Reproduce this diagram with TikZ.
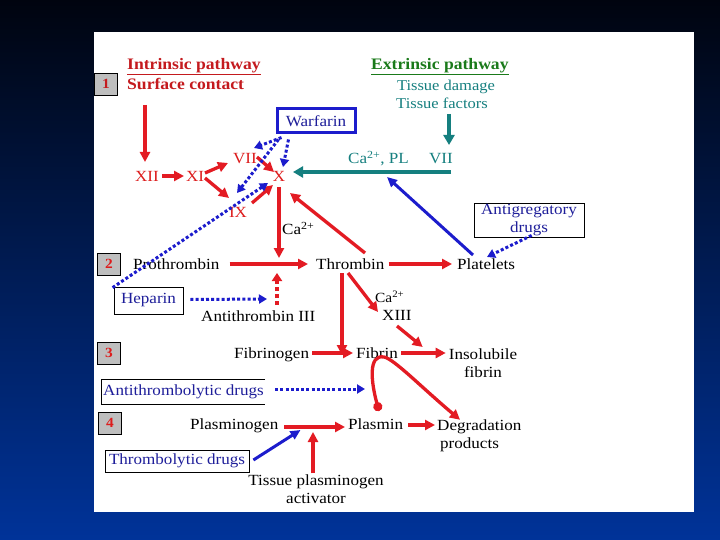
\documentclass[tikz,border=0pt]{standalone}
\usepackage{fontspec}
\setmainfont{Liberation Serif}[FakeStretch=1.1]
\usetikzlibrary{arrows.meta,calc}
\definecolor{myred}{HTML}{E31B23}
\definecolor{txtred}{HTML}{DD1C1C}
\definecolor{hdred}{HTML}{C41A1E}
\definecolor{bluedot}{HTML}{1C1CCC}
\definecolor{bluetxt}{HTML}{1E1E9A}
\definecolor{myteal}{HTML}{157F7F}
\definecolor{mygreen}{HTML}{1A7A1A}
\definecolor{numgray}{HTML}{BEBEBE}
\definecolor{bgtop}{HTML}{00040F}
\definecolor{bgmid}{HTML}{00256F}
\definecolor{bgbot}{HTML}{003399}
\begin{document}
\begin{tikzpicture}[x=1pt,y=-1pt,
  lbl/.style={inner sep=0pt, text height=13pt, text depth=1.5pt, font=\fontsize{15.5}{18}\selectfont},
  ml/.style={inner sep=0pt, align=center, font=\fontsize{15.5}{18}\selectfont},
  hd/.style={inner sep=0pt, text height=13pt, text depth=1.5pt, font=\fontsize{16}{18}\selectfont\bfseries},
  numbox/.style={draw=black, line width=0.8pt, fill=numgray, minimum width=23pt, minimum height=22pt, inner sep=0pt, text=txtred, font=\fontsize{14}{16}\selectfont\bfseries},
  drugbox/.style={draw=black, line width=0.8pt, inner sep=0pt, text=bluetxt, font=\fontsize{15.5}{18}\selectfont},
  ra/.style={draw=myred, line width=3.3pt, -{Triangle[length=10pt,width=10pt]}},
  bd/.style={draw=bluedot, line width=3pt, dash pattern=on 3pt off 2.2pt, -{Triangle[length=8pt,width=9pt]}},
  bs/.style={draw=bluedot, line width=3pt, -{Triangle[length=10pt,width=9pt]}},
  ta/.style={draw=myteal, line width=3.5pt, -{Triangle[length=10pt,width=11pt]}}
]
\useasboundingbox (0,0) rectangle (720,540);
\shade[top color=bgtop, middle color=bgmid, bottom color=bgbot] (0,0) rectangle (720,540);
\fill[white] (94,32) rectangle (694,512);

% headings
\node[hd, anchor=west, text=hdred] (ip) at (127,64) {\underline{Intrinsic pathway}};
\node[hd, anchor=west, text=hdred] (sc) at (127,84) {Surface contact};
\node[hd, anchor=west, text=mygreen] (ep) at (371,64) {\underline{Extrinsic pathway}};
\node[lbl, text=myteal, font=\fontsize{15}{18}\selectfont] (td) at (446,85) {Tissue damage};
\node[lbl, text=myteal, font=\fontsize{15}{18}\selectfont] (tf) at (442,103) {Tissue factors};

% number boxes
\node[numbox, text=hdred] (n1) at (106,84) {1};
\node[numbox] (n2) at (109,264) {2};
\node[numbox] (n3) at (109,353) {3};
\node[numbox] (n4) at (110,423) {4};

% factors
\node[lbl, text=txtred] (xii) at (147,176) {XII};
\node[lbl, text=txtred] (xi) at (195,176) {XI};
\node[lbl, text=txtred] (vii) at (245,158) {VII};
\node[lbl, text=txtred] (ix) at (238,212) {IX};
\node[lbl, text=txtred] (x) at (279,176) {X};
\node[lbl, anchor=west, text=myteal] (capl) at (348,158) {Ca\textsuperscript{2+}, PL};
\node[lbl, text=myteal] (viie) at (441,158) {VII};
\node[draw=bluedot, line width=3pt, minimum width=78pt, minimum height=24pt, inner sep=0pt,
      text=bluetxt, font=\fontsize{15.5}{18}\selectfont] (warf) at (316,121) {Warfarin};
\node[drugbox, minimum width=110pt, minimum height=34pt, align=center] (anti) at (529,220) {Antigregatory\\drugs};
\node[lbl, anchor=west] (ca1) at (282,229) {Ca\textsuperscript{2+}};

% row 2
\node[lbl, anchor=west] (pro) at (133,264) {Prothrombin};
\node[lbl, anchor=west] (thr) at (316,264) {Thrombin};
\node[lbl, anchor=west] (pla) at (457,264) {Platelets};
\node[drugbox, minimum width=69pt, minimum height=27pt] (hep) at (148.5,300.5) {Heparin};
\node[lbl, anchor=west] (at3) at (201,316) {Antithrombin III};
\node[lbl, anchor=west, font=\fontsize{14}{16}\selectfont] (ca2) at (375,297) {Ca\textsuperscript{2+}};
\node[lbl, anchor=west] (xiii) at (382,315) {XIII};

% row 3
\node[lbl, anchor=west] (fg) at (234,353) {Fibrinogen};
\node[lbl, anchor=west] (fib) at (356,353) {Fibrin};
\node[ml] (ins) at (483,363) {Insolubile\\fibrin};
\node[inner sep=0pt, minimum width=163pt, minimum height=24pt, text=bluetxt, font=\fontsize{15.5}{18}\selectfont] (atl) at (183.5,392) {Antithrombolytic drugs};
\draw[black, line width=0.8pt] (atl.north east) -- (atl.north west) -- (atl.south west) -- (atl.south east);

% row 4
\node[lbl, anchor=west] (plg) at (190,424) {Plasminogen};
\node[lbl, anchor=west] (plm) at (348,424) {Plasmin};
\node[inner sep=0pt, align=left, anchor=west, font=\fontsize{15.5}{18}\selectfont] (deg) at (437,436) {Degradation\\\hspace*{3pt}products};
\node[drugbox, minimum width=144pt, minimum height=22pt] (thl) at (177,461) {Thrombolytic drugs};
\node[ml] (tpa) at (316,489) {Tissue plasminogen\\activator};

% intrinsic cascade
\draw[ra] ($(sc.west)+(18,21)$) -- ($(xii.center)+(-2,-14)$);
\draw[ra] ($(xii.center)+(15,0)$) -- ($(xi.center)+(-11,0)$);
\draw[ra] ($(xi.center)+(10,-3)$) -- ($(vii.center)+(-17,5)$);
\draw[ra] ($(xi.center)+(10,2)$) -- ($(ix.center)+(-9,-14)$);
\draw[ra] ($(vii.center)+(12,-1)$) -- ($(x.center)+(-5,-4)$);
\draw[ra] ($(ix.center)+(14,-9)$) -- ($(x.center)+(-6,9)$);

% warfarin and heparin inhibition
\draw[bd] ($(warf.south west)+(6,3)$) -- ($(vii.center)+(9,-10)$);
\draw[bd] ($(warf.south west)+(3,5)$) -- ($(ix.center)+(-1,-19)$);
\draw[bd] ($(warf.south west)+(13,5)$) -- ($(x.center)+(4,-9)$);
\draw[bd] ($(hep.north west)+(-1,1)$) -- ($(x.center)+(-11,7)$);

% extrinsic
\draw[ta] ($(tf.center)+(7,11)$) -- ($(viie.center)+(8,-13)$);
\draw[ta] ($(viie.center)+(10,14)$) -- ($(x.center)+(14,-4)$);

% platelets
\draw[bs] ($(pla.west)+(16,-9)$) -- ($(capl.west)+(39,19)$);
\draw[bd] ($(anti.south west)+(58,-2)$) -- ($(pla.west)+(30,-7)$);

% thrombin formation
\draw[ra] ($(x.center)+(0,11)$) -- ($(x.center |- thr.west)+(0,-6)$);
\draw[ra] ($(pro.east)+(10,0)$) -- ($(thr.west)+(-8,0)$);
\draw[draw=myred, line width=4pt, dash pattern=on 4pt off 3pt, -{Triangle[length=8pt,width=10pt]}] ($(at3.center -| x.center)+(-2,-11)$) -- ($(thr.west)+(-39,9)$);
\draw[bd] ($(hep.east)+(7,-1)$) -- ($(at3.west)+(66,-17)$);
\draw[ra] ($(thr.east)+(4,0)$) -- ($(pla.west)+(-5,0)$);
\draw[ra] ($(thr.west)+(49,-11)$) -- ($(x.center)+(11,17)$);

% fibrin
\draw[ra] ($(thr.west)+(26,9)$) -- ($(fib.west)+(-14,2)$);
\draw[ra] ($(thr.west)+(32,9)$) -- ($(xiii.west)+(-4,-3)$);
\draw[ra] ($(xiii.west)+(15,11)$) -- ($(ins.west)+(-26,-16)$);
\draw[ra] ($(fg.east)+(3,0)$) -- ($(fib.west)+(-3,0)$);
\draw[ra] ($(fib.east)+(3,0)$) -- ($(ins.west)+(-3,-10)$);

% fibrinolysis
\draw[draw=myred, line width=3.3pt, {Circle[length=9pt]}-{Triangle[length=10pt,width=10pt]}]
  ($(plm.west)+(31,-13)$) .. controls (371,382) and (368,354) .. (384,357)
  .. controls (394,359) and (420,386) .. ($(deg.north west)+(23,0)$);
\draw[bd] ($(atl.east)+(10,-3)$) -- ($(plm.west)+(17,-35)$);
\draw[ra] ($(plg.east)+(6,3)$) -- ($(plm.west)+(-3,3)$);
\draw[ra] ($(tpa.north)+(-3,-1)$) -- ($(tpa.north |- plm.west)+(-3,8)$);
\draw[bs] ($(thl.east)+(4,-1)$) -- ($(plg.east)+(22,6)$);
\draw[ra] ($(plm.east)+(5,1)$) -- ($(deg.west)+(-2,-11)$);
\end{tikzpicture}
\end{document}
